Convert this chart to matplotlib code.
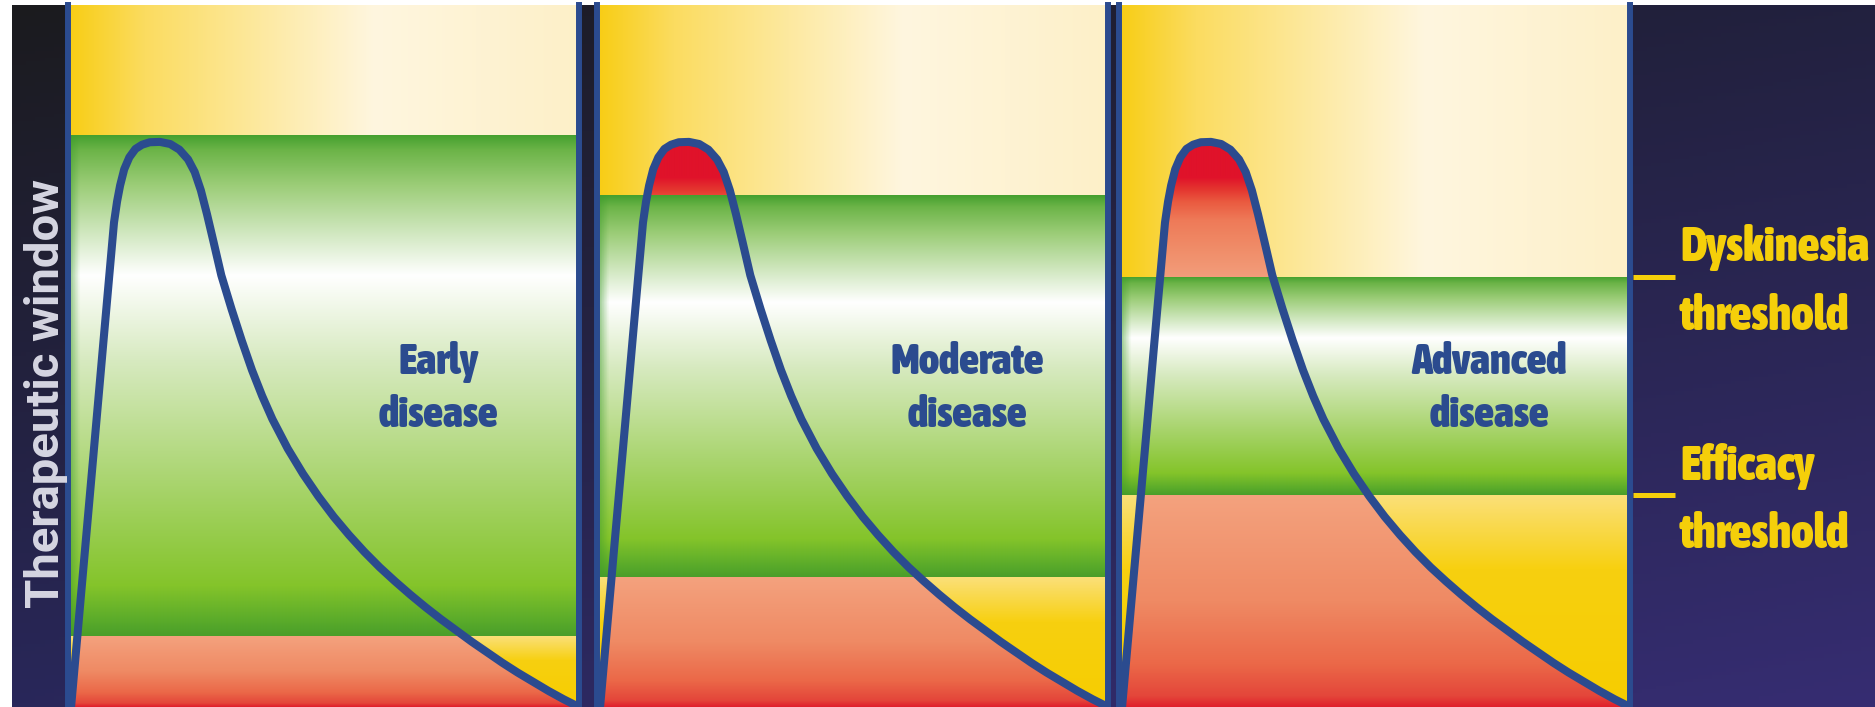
import numpy as np
import matplotlib.pyplot as plt
from matplotlib.patches import Polygon
from matplotlib import font_manager
from matplotlib.font_manager import FontProperties

W, H = 1875, 707

# stages and their thresholds (concentration, % of panel height)
stages = [("Early", "disease"), ("Moderate", "disease"), ("Advanced", "disease")]
dyskinesia = [81.5, 72.9, 61.3]
efficacy = [10.1, 18.5, 30.2]

# levodopa plasma curve (time in h, concentration)
time = [0.06, 0.30, 0.50, 0.70, 0.90, 0.96, 1.02, 1.10, 1.20, 1.32, 1.45,
        1.60, 1.80, 2.00, 2.18, 2.35, 2.48, 2.60, 2.72, 2.85, 3.00, 3.20,
        3.40, 3.60, 3.80, 4.00, 4.30, 4.60, 4.90, 5.20, 5.50, 5.80, 6.10,
        6.40, 6.70, 7.00, 7.30, 7.60, 7.90, 8.20, 8.50, 8.80, 9.10, 9.40,
        9.70, 10.0]
conc = [0.0, 19.7, 36.1, 52.6, 69.0, 72.0, 74.3, 76.6, 78.3, 79.5, 80.1,
        80.45, 80.5, 80.2, 79.4, 78.0, 76.2, 73.6, 70.2, 66.2, 61.5, 56.7,
        52.2, 48.0, 44.3, 41.0, 36.8, 33.2, 30.0, 27.1, 24.5, 22.1, 19.9,
        17.9, 16.0, 14.2, 12.5, 10.9, 9.3, 7.8, 6.3, 4.9, 3.6, 2.3,
        1.1, 0.0]

panel_left = [68, 597, 1119]
panel_width = 511

BLUE = "#2b4b8f"
YELLOW = "#f5cf0a"


def weight_of(f):
    if isinstance(f.weight, int):
        return f.weight
    w = str(f.weight).lower()
    for key, val in (("black", 900), ("heavy", 900), ("extra", 800), ("semi", 600),
                     ("bold", 700), ("medium", 500)):
        if key in w:
            return val
    return 400


def pick_condensed():
    best, bw = None, 0
    for f in font_manager.fontManager.ttflist:
        n = (f.name + " " + f.fname).lower()
        narrow = ("condensed" in n or "narrow" in n or
                  str(f.stretch) in ("condensed", "semi-condensed", "extra-condensed"))
        if not narrow or "italic" in n or "oblique" in n:
            continue
        w = weight_of(f)
        if w >= 600 and w > bw:
            best, bw = f, w
    if best is not None:
        return lambda size: FontProperties(fname=best.fname, size=size)
    return lambda size: FontProperties(family=["Roboto", "DejaVu Sans"], weight="bold", size=size)


font = pick_condensed()


def wide(size):
    return FontProperties(family=["Roboto", "DejaVu Sans"], weight="bold", size=size)


def frac(x0, y0, x1, y1):
    return [x0 / W, 1 - y1 / H, (x1 - x0) / W, (y1 - y0) / H]


def hex2rgb(h):
    h = h.lstrip("#")
    return np.array([int(h[i:i + 2], 16) / 255 for i in (0, 2, 4)])


def ramp(stops, colors, v):
    cols = np.array([hex2rgb(c) for c in colors])
    return np.stack([np.interp(v, stops, cols[:, k]) for k in range(3)], axis=-1)


fig = plt.figure(figsize=(W / 100, H / 100), dpi=100)
fig.patch.set_facecolor("white")
renderer = fig.canvas.get_renderer()


def fit(txt, target, size0, axis="w", cap=None, fp=font):
    # scale a text so that its length matches the reference
    txt.set_fontproperties(fp(size0))
    bb = txt.get_window_extent(renderer)
    L = bb.width if axis == "w" else bb.height
    s = size0 * target / L
    if cap:
        s = min(s, cap)
    txt.set_fontproperties(fp(s))
    return s


# dark backdrop (left strip, dividers, right label panel)
bg = fig.add_axes(frac(12, 5, 1875, 707))
bg.set_axis_off()
yy = np.linspace(0, 1, 200)[:, None, None]
xx = np.linspace(0, 1, 400)[None, :, None]
top = hex2rgb("#1b1b1e") * (1 - xx) + hex2rgb("#22213f") * xx
bot = hex2rgb("#29275a") * (1 - xx) + hex2rgb("#362d72") * xx
bg.imshow(top * (1 - yy) + bot * yy, aspect="auto", extent=(0, 1, 0, 1))
bg.set_xlim(0, 1)
bg.set_ylim(0, 1)

tw = fig.text(46 / W, 1 - 394 / H, "Therapeutic window", rotation=90, ha="center",
              va="center", color="#d6d6e2")
fit(tw, 455, 30, axis="h", cap=34, fp=wide)

nr, nc = 702, 300
cs = np.linspace(100, 0, nr)[:, None]
ts = np.linspace(0, 1, nc)[None, :]
ones = np.ones((nr, nc))

label_size = None
for i, (l1, l2) in enumerate(stages):
    ax = fig.add_axes(frac(panel_left[i], 5, panel_left[i] + panel_width, 707))
    ax.set_xlim(0, 10)
    ax.set_ylim(0, 100)
    ax.set_xticks([])
    ax.set_yticks([])
    for s in ("top", "bottom"):
        ax.spines[s].set_visible(False)
    for s in ("left", "right"):
        ax.spines[s].set_color(BLUE)
        ax.spines[s].set_linewidth(4.3)
        ax.spines[s].set_zorder(5)

    d, e = dyskinesia[i], efficacy[i]
    above = ((cs > d) * ones).astype(bool)[..., None]
    band = (((cs <= d) & (cs > e)) * ones).astype(bool)[..., None]

    # green window, shared by both layers
    sb = np.clip((d - cs) / (d - e), 0, 1) * ones
    green = ramp([0, 0.03, 0.1, 0.28, 0.45, 0.7, 0.9, 0.97, 1.0],
                 ["#45a02f", "#6cb448", "#9ccd78", "#ffffff", "#d7eac0",
                  "#a8d46c", "#84c42a", "#5aab2a", "#4a9e2a"], sb)
    edge = np.clip(1 - ts / 0.022, 0, 1)[..., None] * ones[..., None] * 0.6
    green = green * (1 - edge) + hex2rgb("#3f9c2c") * edge

    # outside the curve
    top_out = ramp([0, 0.15, 0.6, 1.0], ["#f8cd14", "#fbdc60", "#fff6df", "#fdf0c8"],
                   ts * ones)
    s2 = np.clip((e - cs) / e, 0, 1) * ones
    low_out = ramp([0, 0.35, 1.0], ["#fbe07a", "#f7d010", "#f6cd00"], s2)
    out = np.where(above, top_out, np.where(band, green, low_out))

    # inside the curve
    top_in = ramp([55, 61.5, 65, 69.4, 72.0, 73.8, 75.5, 100],
                  ["#f4a27e", "#f29c7a", "#f08e6a", "#ee7a58", "#ea5a40",
                   "#e4352f", "#e0122a", "#e0122a"],
                  cs * ones)
    low_in = ramp([0, 0.5, 0.8, 0.95, 1.0],
                  ["#f4a27e", "#ef8a64", "#eb6848", "#e4463a", "#e0202c"], s2)
    inn = np.where(above, top_in, np.where(band, green, low_in))

    ax.imshow(out, aspect="auto", extent=(0, 10, 0, 100), zorder=0)
    im = ax.imshow(inn, aspect="auto", extent=(0, 10, 0, 100), zorder=1)
    poly = Polygon(np.column_stack([time, conc]), closed=True, transform=ax.transData)
    im.set_clip_path(poly)

    ax.plot(time, conc, color=BLUE, lw=5.8, solid_joinstyle="round",
            solid_capstyle="round", zorder=3)

    t1 = ax.text(7.25, 47.4, l1, ha="center", va="baseline", color=BLUE, zorder=4)
    t2 = ax.text(7.25, 39.9, l2, ha="center", va="baseline", color=BLUE, zorder=4)
    if label_size is None:
        label_size = fit(t2, 126, 28, cap=31)
    t1.set_fontproperties(font(label_size))
    t2.set_fontproperties(font(label_size))

# threshold labels on the right
rax = fig.add_axes(frac(1630, 5, 1875, 707))
rax.set_xlim(0, 1)
rax.set_ylim(0, 100)
rax.set_axis_off()
right_size = None
for lvl, word in [(dyskinesia[2], "Dyskinesia"), (efficacy[2], "Efficacy")]:
    rax.plot([0.012, 0.184], [lvl, lvl], color=YELLOW, lw=3.6, solid_capstyle="butt")
    a = rax.text(0.204, lvl + 2.2, word, ha="left", va="baseline", color=YELLOW)
    b = rax.text(0.204, lvl - 7.6, "threshold", ha="left", va="baseline", color=YELLOW)
    if right_size is None:
        right_size = fit(a, 190, 34, cap=38)
    a.set_fontproperties(font(right_size))
    b.set_fontproperties(font(right_size))

fig.savefig("out.png", dpi=100)
